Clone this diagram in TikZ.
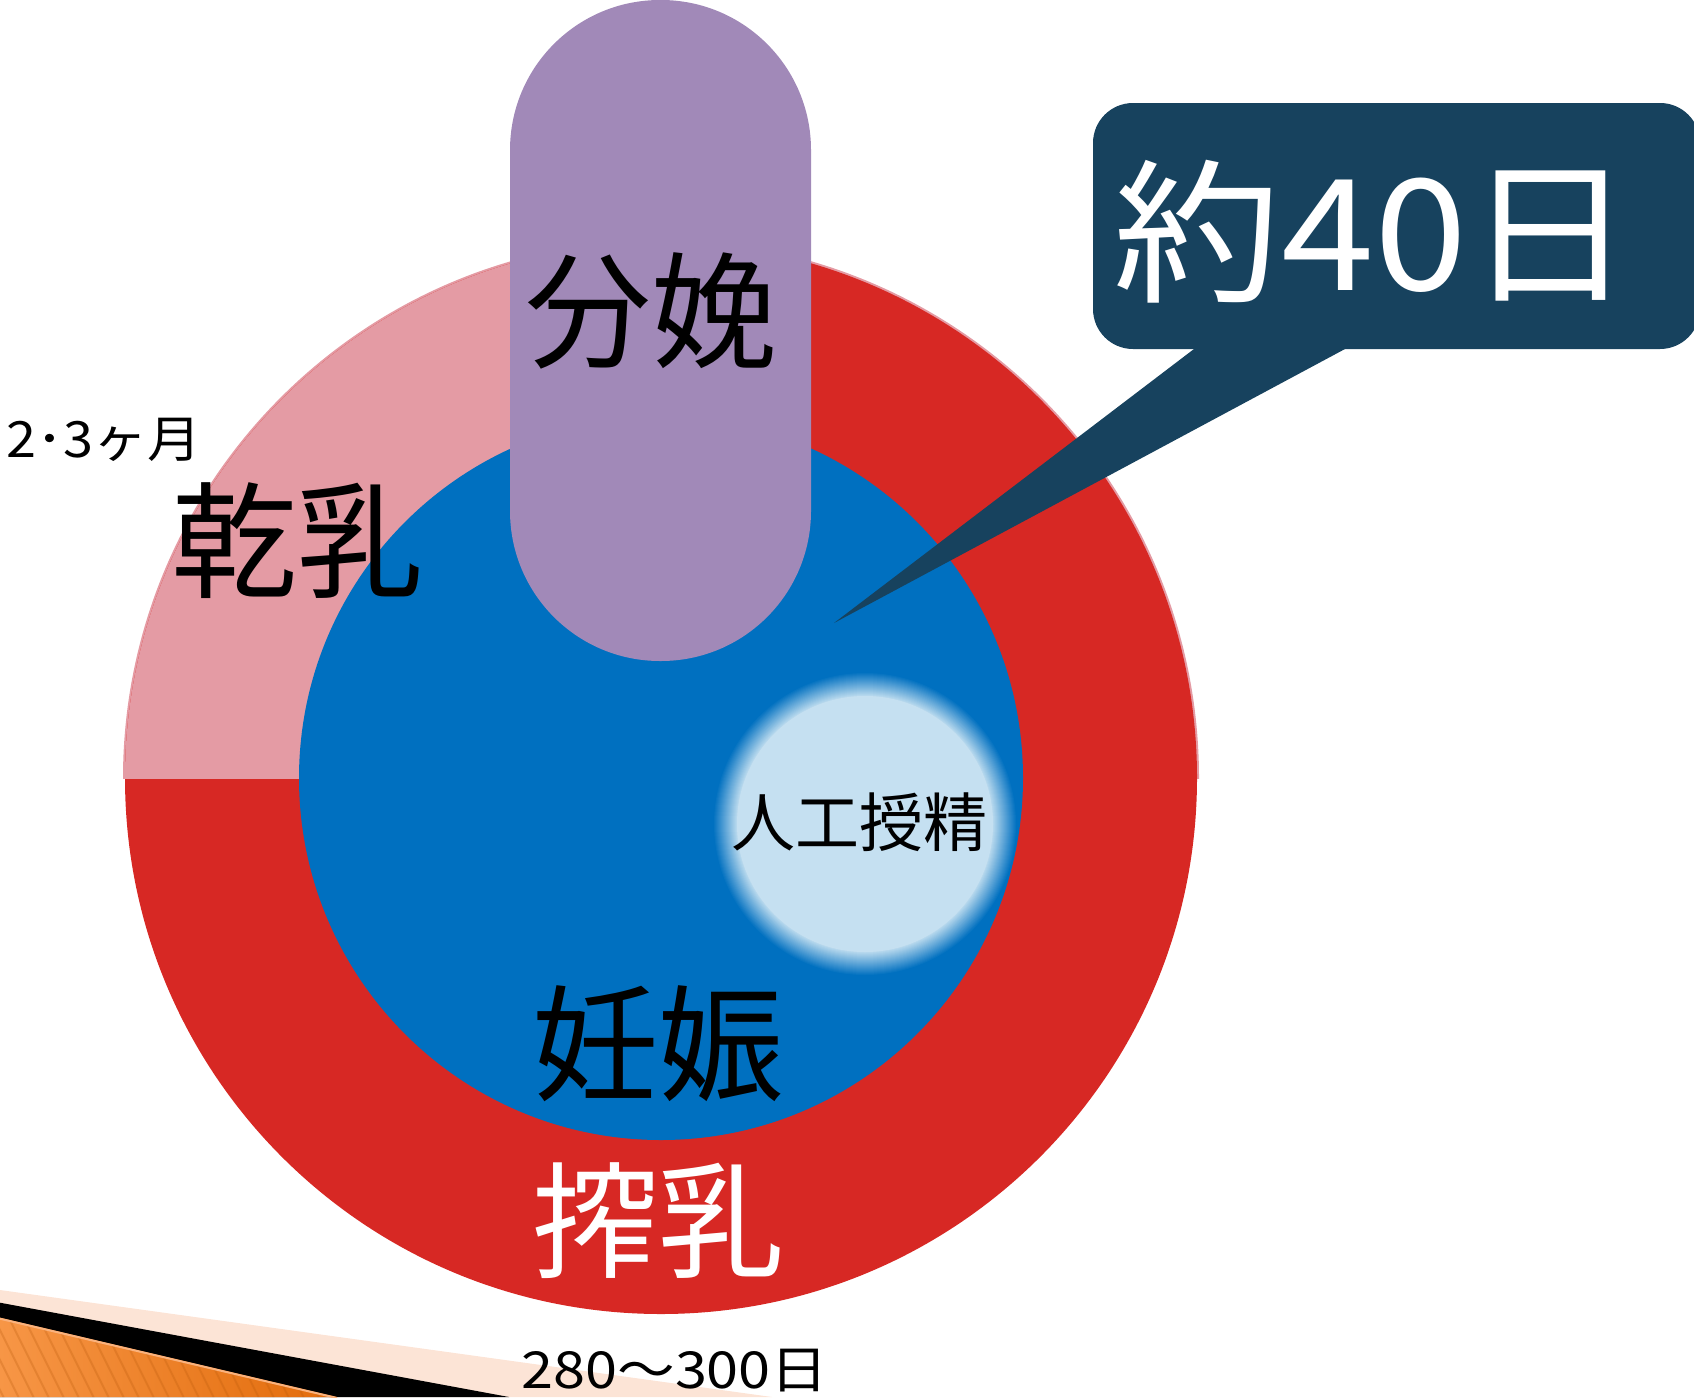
\documentclass[tikz,border=0pt]{standalone}
\usepackage{graphicx}
\usepackage{fontspec}
\setmainfont{Noto Sans CJK JP}
\definecolor{ringred}{RGB}{215,40,36}
\definecolor{ringpink}{RGB}{228,155,164}
\definecolor{innerblue}{RGB}{0,112,192}
\definecolor{pillpurple}{RGB}{161,137,184}
\definecolor{aiblue}{RGB}{197,224,241}
\definecolor{calloutblue}{RGB}{23,66,94}
\definecolor{peach}{RGB}{252,228,214}
\definecolor{orangeL}{RGB}{247,150,70}
\definecolor{orangeD}{RGB}{226,107,10}
\definecolor{orangeEdge}{RGB}{250,178,125}
\tikzset{
  bigtxt/.style={inner sep=0pt, anchor=center, font=\fontsize{126}{130}\selectfont},
  smalltxt/.style={inner sep=0pt, anchor=center, font=\fontsize{50}{54}\selectfont},
}
\begin{document}
\begin{tikzpicture}[x=1pt,y=-1pt]
\useasboundingbox (0,0) rectangle (1694,1397);
\clip (0,0) rectangle (1694,1397);
\coordinate (c) at (661,778);
% ring
\begin{scope}
  \clip (0,0) rectangle (1694,778);
  \fill[ringpink] (c) circle (538pt);
\end{scope}
\fill[ringred] (c) circle (536pt);
\begin{scope}
  \clip (0,0) rectangle (661,778);
  \fill[ringpink] (c) circle (536pt);
\end{scope}
\fill[innerblue] (c) circle (362pt);
% blurred insemination circle
\coordinate (ai) at (865,824);
\foreach \i in {0,...,24}{
  \pgfmathsetmacro{\p}{\i*4}
  \pgfmathsetmacro{\rr}{152-\i}
  \fill[aiblue!\p!innerblue] (ai) circle (\rr pt);
}
\fill[aiblue] (ai) circle (128pt);
% pill
\fill[pillpurple, rounded corners=150pt] (510,0) rectangle (811,661);
% callout
\fill[calloutblue, rounded corners=40pt] (1093,103) rectangle (1700,349);
\fill[calloutblue] (1194,340) -- (1345,340) -- (1345,349) -- (834,623) -- (1194,349) -- cycle;
% bottom-left decoration
\fill[peach] (0,1290) -- (772,1397) -- (0,1397) -- cycle;
\fill[black] (0,1302.7) -- (509,1397) -- (0,1397) -- cycle;
\begin{scope}
  \clip (0,1317.7) -- (337,1397) -- (0,1397) -- cycle;
  \shade[left color=orangeL, right color=orangeD] (0,1310) rectangle (340,1397);
  \foreach \k in {-60,-45,...,340}{
    \draw[orangeD!80!black, opacity=0.25, line width=2pt] (\k,1300) -- (\k+50,1400);
  }
\end{scope}
\draw[orangeEdge, line width=2pt] (0,1318.7) -- (337,1398);
% texts
\node[bigtxt] (bunben) at (651,311) {分娩};
\node[bigtxt] (kannyu) at (297,541) {乾乳};
\node[bigtxt] (ninshin) at (658,1044) {妊娠};
\node[bigtxt, text=white] (sakunyu) at (658,1221) {搾乳};
\node[smalltxt] (dry) at (104,440) {\scalebox{1.08}[1]{2･3ヶ月}};
\node[inner sep=0pt, font=\fontsize{64}{68}\selectfont] (jinko) at (859,822) {人工授精};
\node[inner sep=0pt, font=\fontsize{51}{55}\selectfont] (cycle) at (675,1371) {\scalebox{1.13}[1]{280～300日}};
\node[inner sep=0pt, text=white, font=\fontsize{155}{160}\selectfont] (yaku) at (1374,232) {\scalebox{1.08}[1]{約40日}};
\end{tikzpicture}
\end{document}
